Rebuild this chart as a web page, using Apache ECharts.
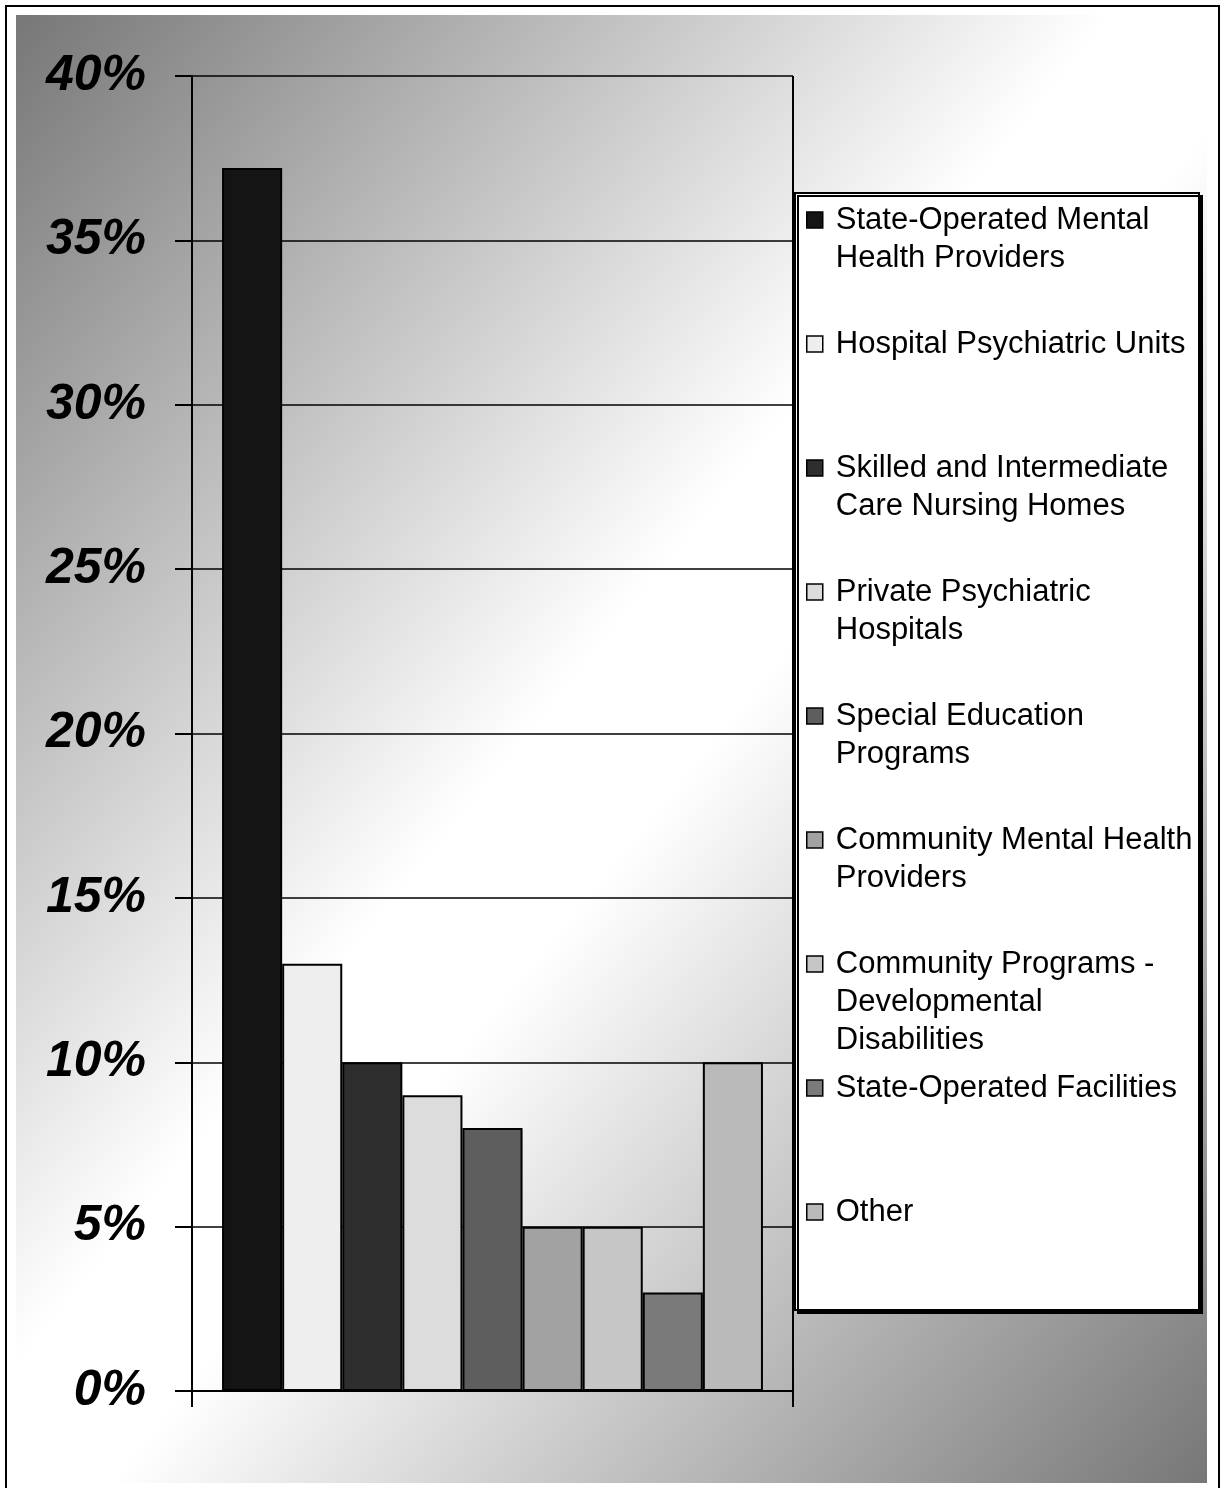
<!DOCTYPE html>
<html>
<head>
<meta charset="utf-8">
<script src="https://cdn.jsdelivr.net/npm/echarts@6/dist/echarts.min.js"></script>
<style>
  html, body { margin: 0; padding: 0; background: #ffffff; }
  #chart { width: 1222px; height: 1488px; }
</style>
</head>
<body>
<div id="chart"></div>
<script>
// ---- data ----
const seriesNames = [
  'State-Operated Mental Health Providers',
  'Hospital Psychiatric Units',
  'Skilled and Intermediate Care Nursing Homes',
  'Private Psychiatric Hospitals',
  'Special Education Programs',
  'Community Mental Health Providers',
  'Community Programs - Developmental Disabilities',
  'State-Operated Facilities',
  'Other'
];
const legendLines = [
  ['State-Operated Mental', 'Health Providers'],
  ['Hospital Psychiatric Units'],
  ['Skilled and Intermediate', 'Care Nursing Homes'],
  ['Private Psychiatric', 'Hospitals'],
  ['Special Education', 'Programs'],
  ['Community Mental Health', 'Providers'],
  ['Community Programs -', 'Developmental', 'Disabilities'],
  ['State-Operated Facilities'],
  ['Other']
];
const values = [37.2, 13, 10, 9, 8, 5, 5, 3, 10];   // percent
const yTicks = { min: 0, max: 40, interval: 5 };
const barColors = ['#141414', '#eeeeee', '#2e2e2e', '#dcdcdc', '#5e5e5e', '#a2a2a2', '#c6c6c6', '#7a7a7a', '#bababa'];

// ---- chart ----
const chart = echarts.init(document.getElementById('chart'), null, { renderer: 'canvas' });

const LINE_H = 38;
const legendFirstLineY = [220, 344, 468, 592, 716, 840, 964, 1088, 1212];
const legendMap = {};
seriesNames.forEach((n, i) => {
  const lines = legendLines[i];
  legendMap[n] = '\n'.repeat(lines.length - 1) + lines.join('\n');
});

const legends = seriesNames.map((n, i) => {
  const nl = legendLines[i].length;
  return {
    data: [n],
    orient: 'vertical',
    left: 806,
    top: legendFirstLineY[i] - (2 * nl - 1) * LINE_H / 2,
    padding: 0,
    icon: 'rect',
    itemWidth: 16,
    itemHeight: 16,
    selectedMode: false,
    itemStyle: { borderColor: '#000', borderWidth: 1.5 },
    formatter: name => legendMap[name],
    textStyle: {
      fontFamily: 'Liberation Sans, Arial, sans-serif',
      fontSize: 31,
      color: '#000',
      lineHeight: LINE_H,
      padding: [0, 0, 0, 8]
    }
  };
});

const series = seriesNames.map((n, i) => ({
  name: n,
  type: 'bar',
  data: [values[i]],
  barGap: '0%',
  barCategoryGap: '10%',
  itemStyle: { color: barColors[i], borderColor: '#000', borderWidth: 2 },
  emphasis: { disabled: true }
}));

const option = {
  animation: false,
  backgroundColor: '#ffffff',
  graphic: [
    {
      type: 'rect', z: -20, silent: true,
      shape: { x: 16, y: 15, width: 1191, height: 1468 },
      style: {
        fill: {
          type: 'linear', global: true,
          x: 16, y: 15, x2: 1452, y2: 1180,
          colorStops: [
            { offset: 0, color: '#777777' },
            { offset: 0.46, color: '#ffffff' },
            { offset: 0.54, color: '#ffffff' },
            { offset: 1, color: '#777777' }
          ]
        }
      }
    },
    {
      type: 'rect', z: -19, silent: true,
      shape: { x: 6, y: 6, width: 1213, height: 1500 },
      style: { fill: 'none', stroke: '#000', lineWidth: 2 }
    },
    {
      type: 'rect', z: -5, silent: true,
      shape: { x: 795, y: 193, width: 404, height: 1117 },
      style: {
        fill: '#ffffff', stroke: '#000', lineWidth: 2,
        shadowColor: '#000', shadowOffsetX: 3, shadowOffsetY: 3, shadowBlur: 0
      }
    }
  ],
  legend: legends,
  grid: { left: 192, right: 429, top: 76, bottom: 97, containLabel: false },
  xAxis: {
    type: 'category',
    data: [''],
    axisLine: { show: true, lineStyle: { color: '#000', width: 2 } },
    axisTick: { show: true, length: 16, alignWithLabel: false, interval: 0, lineStyle: { color: '#000', width: 2 } },
    axisLabel: { show: false },
    splitLine: { show: true, lineStyle: { color: '#000', width: 2 } }
  },
  yAxis: {
    type: 'value',
    min: yTicks.min, max: yTicks.max, interval: yTicks.interval,
    axisLine: { show: true, lineStyle: { color: '#000', width: 2 } },
    axisTick: { show: true, length: 17, lineStyle: { color: '#000', width: 2 } },
    splitLine: { show: true, lineStyle: { color: '#000', width: 1.5 } },
    axisLabel: {
      formatter: '{value}%',
      margin: 46,
      color: '#000',
      fontFamily: 'Liberation Sans, Arial, sans-serif',
      fontSize: 50,
      fontWeight: 'bold',
      fontStyle: 'italic',
      padding: [8, 0, 0, 0]
    }
  },
  series: series
};

chart.setOption(option);
</script>
</body>
</html>
